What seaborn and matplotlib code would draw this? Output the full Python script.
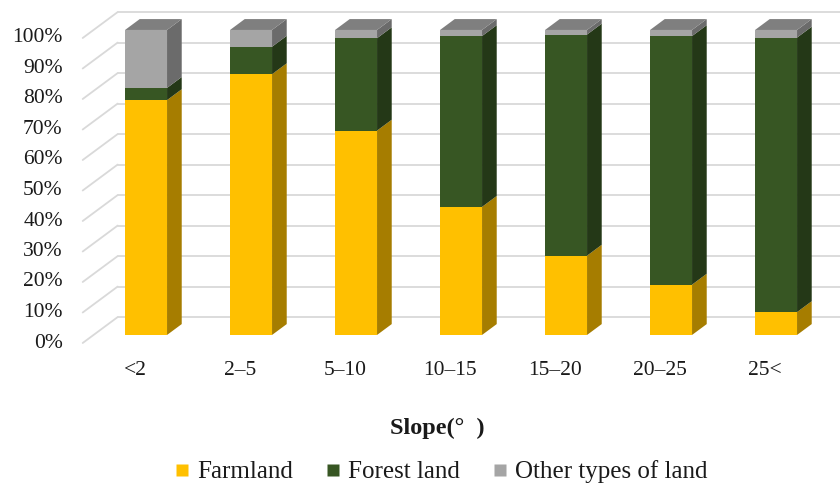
import matplotlib
matplotlib.use('Agg')
import matplotlib.pyplot as plt
import matplotlib.transforms as mtransforms
from matplotlib.patches import Polygon
from matplotlib.lines import Line2D
import seaborn as sns
import numpy as np

# Data (percent of each slope class)
categories = ['<2', '2–5', '5–10', '10–15', '15–20', '20–25', '25<']
farmland = [77, 85.5, 67, 42, 26, 16.5, 7.5]
forest = [4, 9, 30.3, 56, 72.5, 81.5, 90]
other = [19, 5.5, 2.7, 2, 1.5, 2, 2.5]
y_ticks = [0, 10, 20, 30, 40, 50, 60, 70, 80, 90, 100]
series_names = ['Farmland', 'Forest land', 'Other types of land']

# colours: front face, side face
front_colors = ['#FFC000', '#375623', '#A5A5A5']
side_colors = ['#A67D00', '#243817', '#6B6B6B']
top_color = '#7F7F7F'
grid_color = '#D9D9D9'

# fake 3D geometry (data units: categories in x, percent in y)
DX, DY = 0.333, 8.5        # full depth of the plot box
F, B = 0.31, 0.73          # depth of bar front / back face
BAR_W = 0.4

sns.set_theme(style='white')
plt.rcParams['font.family'] = ['Liberation Serif', 'DejaVu Serif']

fig = plt.figure(figsize=(8.4, 4.86), dpi=100)
ax = fig.add_axes([0, 0, 1, 1])

# back wall and left wall gridlines
n = len(categories)
for t in y_ticks:
    ax.plot([-0.5, -0.5 + DX], [t, t + DY], color=grid_color, lw=1.3, zorder=1)
    ax.plot([-0.5 + DX, n - 0.5 + DX], [t + DY, t + DY], color=grid_color, lw=1.3, zorder=1)
    ax.text(-0.69, t, f'{t}%', ha='right', va='center', fontsize=15.5, color='#1a1a1a')

# front faces, drawn as overlapping cumulative bars
farm = np.array(farmland)
cum_forest = farm + np.array(forest)
cum_other = cum_forest + np.array(other)
for vals, col in [(cum_other, front_colors[2]), (cum_forest, front_colors[1]), (farm, front_colors[0])]:
    sns.barplot(x=categories, y=vals, color=col, saturation=1, width=BAR_W,
                linewidth=0, ax=ax, zorder=3)

shift = mtransforms.Affine2D().translate(F * DX, F * DY) + ax.transData
for p in ax.patches:
    p.set_transform(shift)

# side and top faces
ddx, ddy = (B - F) * DX, (B - F) * DY
for i in range(n):
    bounds = [0, farm[i], cum_forest[i], cum_other[i]]
    xr = i + BAR_W / 2 + F * DX
    xl = i - BAR_W / 2 + F * DX
    for k in range(3):
        y0 = bounds[k] + F * DY
        y1 = bounds[k + 1] + F * DY
        ax.add_patch(Polygon([(xr, y0), (xr, y1), (xr + ddx, y1 + ddy), (xr + ddx, y0 + ddy)],
                             closed=True, facecolor=side_colors[k], edgecolor='none', zorder=3))
    yt = bounds[3] + F * DY
    ax.add_patch(Polygon([(xl, yt), (xr, yt), (xr + ddx, yt + ddy), (xl + ddx, yt + ddy)],
                         closed=True, facecolor=top_color, edgecolor='none', zorder=3))
    ax.text(i, -8.9, categories[i], ha='center', va='center', fontsize=15.5, color='#1a1a1a')

ax.set_xlim(-135.2 / 105, (840 - 135.2) / 105)
ax.set_ylim(-(486 - 343) / 3.05, 343 / 3.05)
ax.axis('off')

fig.text(437 / 840, 1 - 428 / 486, 'Slope(°  )', ha='center', va='center',
         fontsize=17.5, fontweight='bold', color='#1a1a1a')

handles = [Line2D([], [], marker='s', linestyle='none', markersize=8.5,
                  markerfacecolor=c, markeredgecolor='none') for c in front_colors]
fig.legend(handles, series_names, loc='center', bbox_to_anchor=(441 / 840, 1 - 472 / 486),
           ncol=3, frameon=False, fontsize=18, handlelength=0.6, handletextpad=0.3,
           columnspacing=1.3, labelcolor='#1a1a1a')

fig.savefig('out.png', dpi=100)
